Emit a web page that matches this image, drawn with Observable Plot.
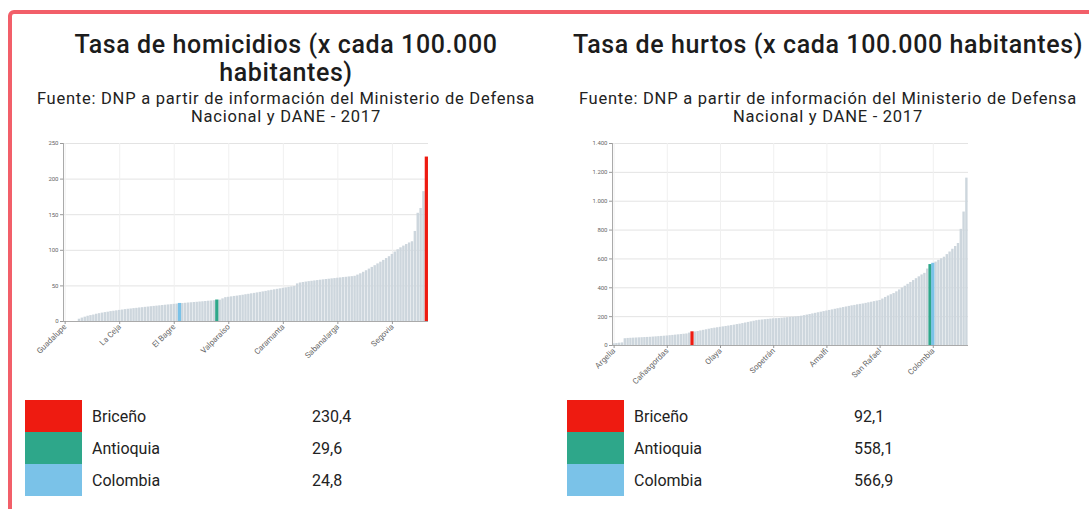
<!DOCTYPE html>
<html>
<head>
<meta charset="utf-8">
<script src="https://cdn.jsdelivr.net/npm/d3@7"></script>
<script src="https://cdn.jsdelivr.net/npm/@observablehq/plot@0.6"></script>
<style>
  html, body { margin: 0; padding: 0; width: 1089px; height: 509px; overflow: hidden; background: #fff; font-family: Roboto, "Open Sans", sans-serif; }
  #frame { position: absolute; left: 8px; top: 10px; width: 1110px; height: 540px; border: 4px solid #f25f69; border-radius: 6px; box-sizing: border-box; }
  .panel { position: absolute; top: 31px; width: 520px; text-align: center; }
  .title { font-size: 25px; font-weight: 500; color: #1c1c1c; line-height: 28px; height: 56px; letter-spacing: 0.6px; }
  .sub { font-size: 16.5px; color: #222; line-height: 18px; margin-top: 3px; letter-spacing: 0.75px; }
  .chart { position: absolute; }
  .legend { position: absolute; top: 400px; }
  .row { position: relative; height: 32px; }
  .sw { position: absolute; left: 0; top: 0; width: 57px; height: 32px; }
  .nm { position: absolute; left: 67px; top: 7px; font-size: 16px; color: #222; }
  .vl { position: absolute; left: 287px; top: 7px; font-size: 16px; color: #222; }
</style>
</head>
<body>
<div id="frame"></div>
<div class="panel" style="left:26px"><div class="title">Tasa de homicidios (x cada 100.000 habitantes)</div><div class="sub">Fuente: DNP a partir de información del Ministerio de Defensa Nacional y DANE - 2017</div></div>
<div class="panel" style="left:568px"><div class="title">Tasa de hurtos (x cada 100.000 habitantes)</div><div class="sub">Fuente: DNP a partir de información del Ministerio de Defensa Nacional y DANE - 2017</div></div>
<div id="c1" class="chart" style="left:30px;top:135px"></div>
<div id="c2" class="chart" style="left:575px;top:135px"></div>
<div id="l1" class="legend" style="left:25px"></div>
<div id="l2" class="legend" style="left:567px"></div>
<script>
// ---- Data ----
const legendNames = ["Briceño", "Antioquia", "Colombia"];
const legendColors = ["#ee1b11", "#2ea78a", "#7ac2e8"];
const homLegendValues = ["230,4", "29,6", "24,8"];
const hurLegendValues = ["92,1", "558,1", "566,9"];

// Homicide rates, sorted ascending (125 municipalities + Antioquia + Colombia)
const homValues = [
  0, 0, 0, 0, 0, 3.2, 4.8, 6.1, 7.4, 8.3,
  9.1, 10.2, 11.0, 11.8, 12.5, 13.1, 13.9, 14.4, 15.0, 15.6,
  16.1, 16.7, 17.2, 17.6, 18.1, 18.5, 19.0, 19.4, 19.9, 20.3,
  20.8, 21.2, 21.6, 22.0, 22.5, 22.9, 23.3, 23.7, 24.1, 24.5,
  24.8, 25.2, 25.6, 26.0, 26.3, 26.7, 27.0, 27.4, 27.7, 28.1,
  28.5, 28.8, 29.2, 29.6, 30.0, 31.8, 33.5, 34.0, 34.6, 35.2,
  35.7, 36.3, 36.9, 37.6, 38.2, 38.9, 39.5, 40.2, 40.9, 41.6,
  42.3, 43.1, 43.8, 44.5, 45.2, 45.9, 46.6, 47.3, 48.0, 48.6,
  49.2, 52.8, 54.1, 54.8, 55.4, 56.0, 56.5, 57.0, 57.5, 58.0,
  58.5, 59.0, 59.4, 59.9, 60.3, 60.8, 61.2, 61.7, 62.1, 62.6,
  63.0, 63.5, 65.2, 67.0, 69.1, 71.3, 73.6, 76.0, 78.4, 80.9,
  83.3, 85.8, 88.4, 91.0, 94.2, 97.6, 100.8, 103.5, 105.9, 108.1,
  110.3, 112.0, 126.5, 152.0, 158.7, 182.4, 230.4
];
const homHighlight = [126, 53, 40]; // Briceño, Antioquia, Colombia
const homTickIdx = [0, 19, 38, 57, 76, 95, 114];
const homTickLabels = ["Guadalupe", "La Ceja", "El Bagre", "Valparaíso", "Caramanta", "Sabanalarga", "Segovia"];
const homYTicks = [0, 50, 100, 150, 200, 250];

// Theft rates, sorted ascending
const hurValues = [
  12, 14, 16, 18, 47, 49, 50, 51, 52, 53,
  54, 55, 56, 57, 58.5, 60, 61.5, 63, 64.5, 66,
  68, 70, 72, 74, 76, 78, 80, 86, 92.1, 94,
  97, 101, 105, 109, 113, 117, 120, 123, 126, 129,
  132, 135, 138, 141, 145, 148, 152, 156, 160, 164,
  168, 172, 175, 177, 179, 181, 183, 185, 186, 187,
  189, 191, 193, 195, 196, 198, 200, 203, 207, 211,
  215, 219, 223, 227, 231, 235, 239, 243, 247, 251,
  255, 259, 263, 267, 271, 275, 278, 282, 285, 288,
  292, 296, 300, 304, 308, 312, 322, 333, 343, 352,
  360, 372, 385, 398, 411, 424, 437, 450, 463, 476,
  489, 500, 530, 558.1, 566.9, 578, 590, 601, 612, 630,
  648, 667, 686, 707, 805, 925, 1160
];
const hurHighlight = [28, 113, 114]; // Briceño, Antioquia, Colombia
const hurTickIdx = [0, 19, 38, 57, 76, 95, 114];
const hurTickLabels = ["Argelia", "Cañasgordas", "Olaya", "Sopetrán", "Amalfi", "San Rafael", "Colombia"];
const hurYTicks = [0, 200, 400, 600, 800, 1000, 1200, 1400];

const baseColor = "#cdd6dd";
const locale = d3.formatLocale({decimal: ",", thousands: ".", grouping: [3], currency: ["$", ""]});
const fmt = locale.format(",d");

function chart(values, highlight, tickIdx, tickLabels, yTicks, opts) {
  const data = values.map((v, i) => ({i, v}));
  const colorOf = i => {
    const k = highlight.indexOf(i);
    return k >= 0 ? legendColors[k] : baseColor;
  };
  const labelOf = i => tickLabels[tickIdx.indexOf(i)] ?? "";
  return Plot.plot({
    width: opts.width, height: opts.height,
    marginLeft: opts.ml, marginRight: opts.mr, marginTop: opts.mt, marginBottom: opts.mb,
    style: {fontFamily: "Roboto, sans-serif", color: "#666", background: "transparent"},
    x: {type: "band", domain: d3.range(values.length), padding: 0.15, axis: null},
    y: {domain: [0, yTicks[yTicks.length - 1]], axis: null},
    marks: [
      Plot.gridY(yTicks, {stroke: "#e3e3e3", strokeOpacity: 1}),
      Plot.ruleX(tickIdx, {stroke: "#f0f0f0", strokeOpacity: 1}),
      Plot.barY(data.filter(d => highlight.indexOf(d.i) < 0), {x: "i", y: "v", fill: baseColor}),
      Plot.barY(data.filter(d => highlight.indexOf(d.i) >= 0), {x: "i", y: "v", fill: d => colorOf(d.i), inset: -0.4}),
      Plot.axisY(yTicks, {tickSize: 3, tickFormat: fmt, fontSize: 6, stroke: "#999", fill: "#666", tickPadding: 2, label: null}),
      Plot.frame({anchor: "left", stroke: "#aaa"}),
      Plot.ruleY([0], {stroke: "#aaa"}),
      Plot.axisX(tickIdx, {tickFormat: labelOf, tickRotate: -45, fontSize: 8, tickSize: 3, stroke: "#999", fill: "#666", tickPadding: 1, label: null})
    ]
  });
}

document.getElementById("c1").append(chart(homValues, homHighlight, homTickIdx, homTickLabels, homYTicks,
  {width: 410, height: 250, ml: 33, mr: 12, mt: 8, mb: 64}));
document.getElementById("c2").append(chart(hurValues, hurHighlight, hurTickIdx, hurTickLabels, hurYTicks,
  {width: 405, height: 270, ml: 37, mr: 12, mt: 8, mb: 60}));

function legend(el, vals) {
  legendNames.forEach((n, k) => {
    const row = document.createElement("div");
    row.className = "row";
    row.innerHTML = `<div class="sw" style="background:${legendColors[k]}"></div><div class="nm">${n}</div><div class="vl">${vals[k]}</div>`;
    el.append(row);
  });
}
legend(document.getElementById("l1"), homLegendValues);
legend(document.getElementById("l2"), hurLegendValues);
</script>
</body>
</html>
